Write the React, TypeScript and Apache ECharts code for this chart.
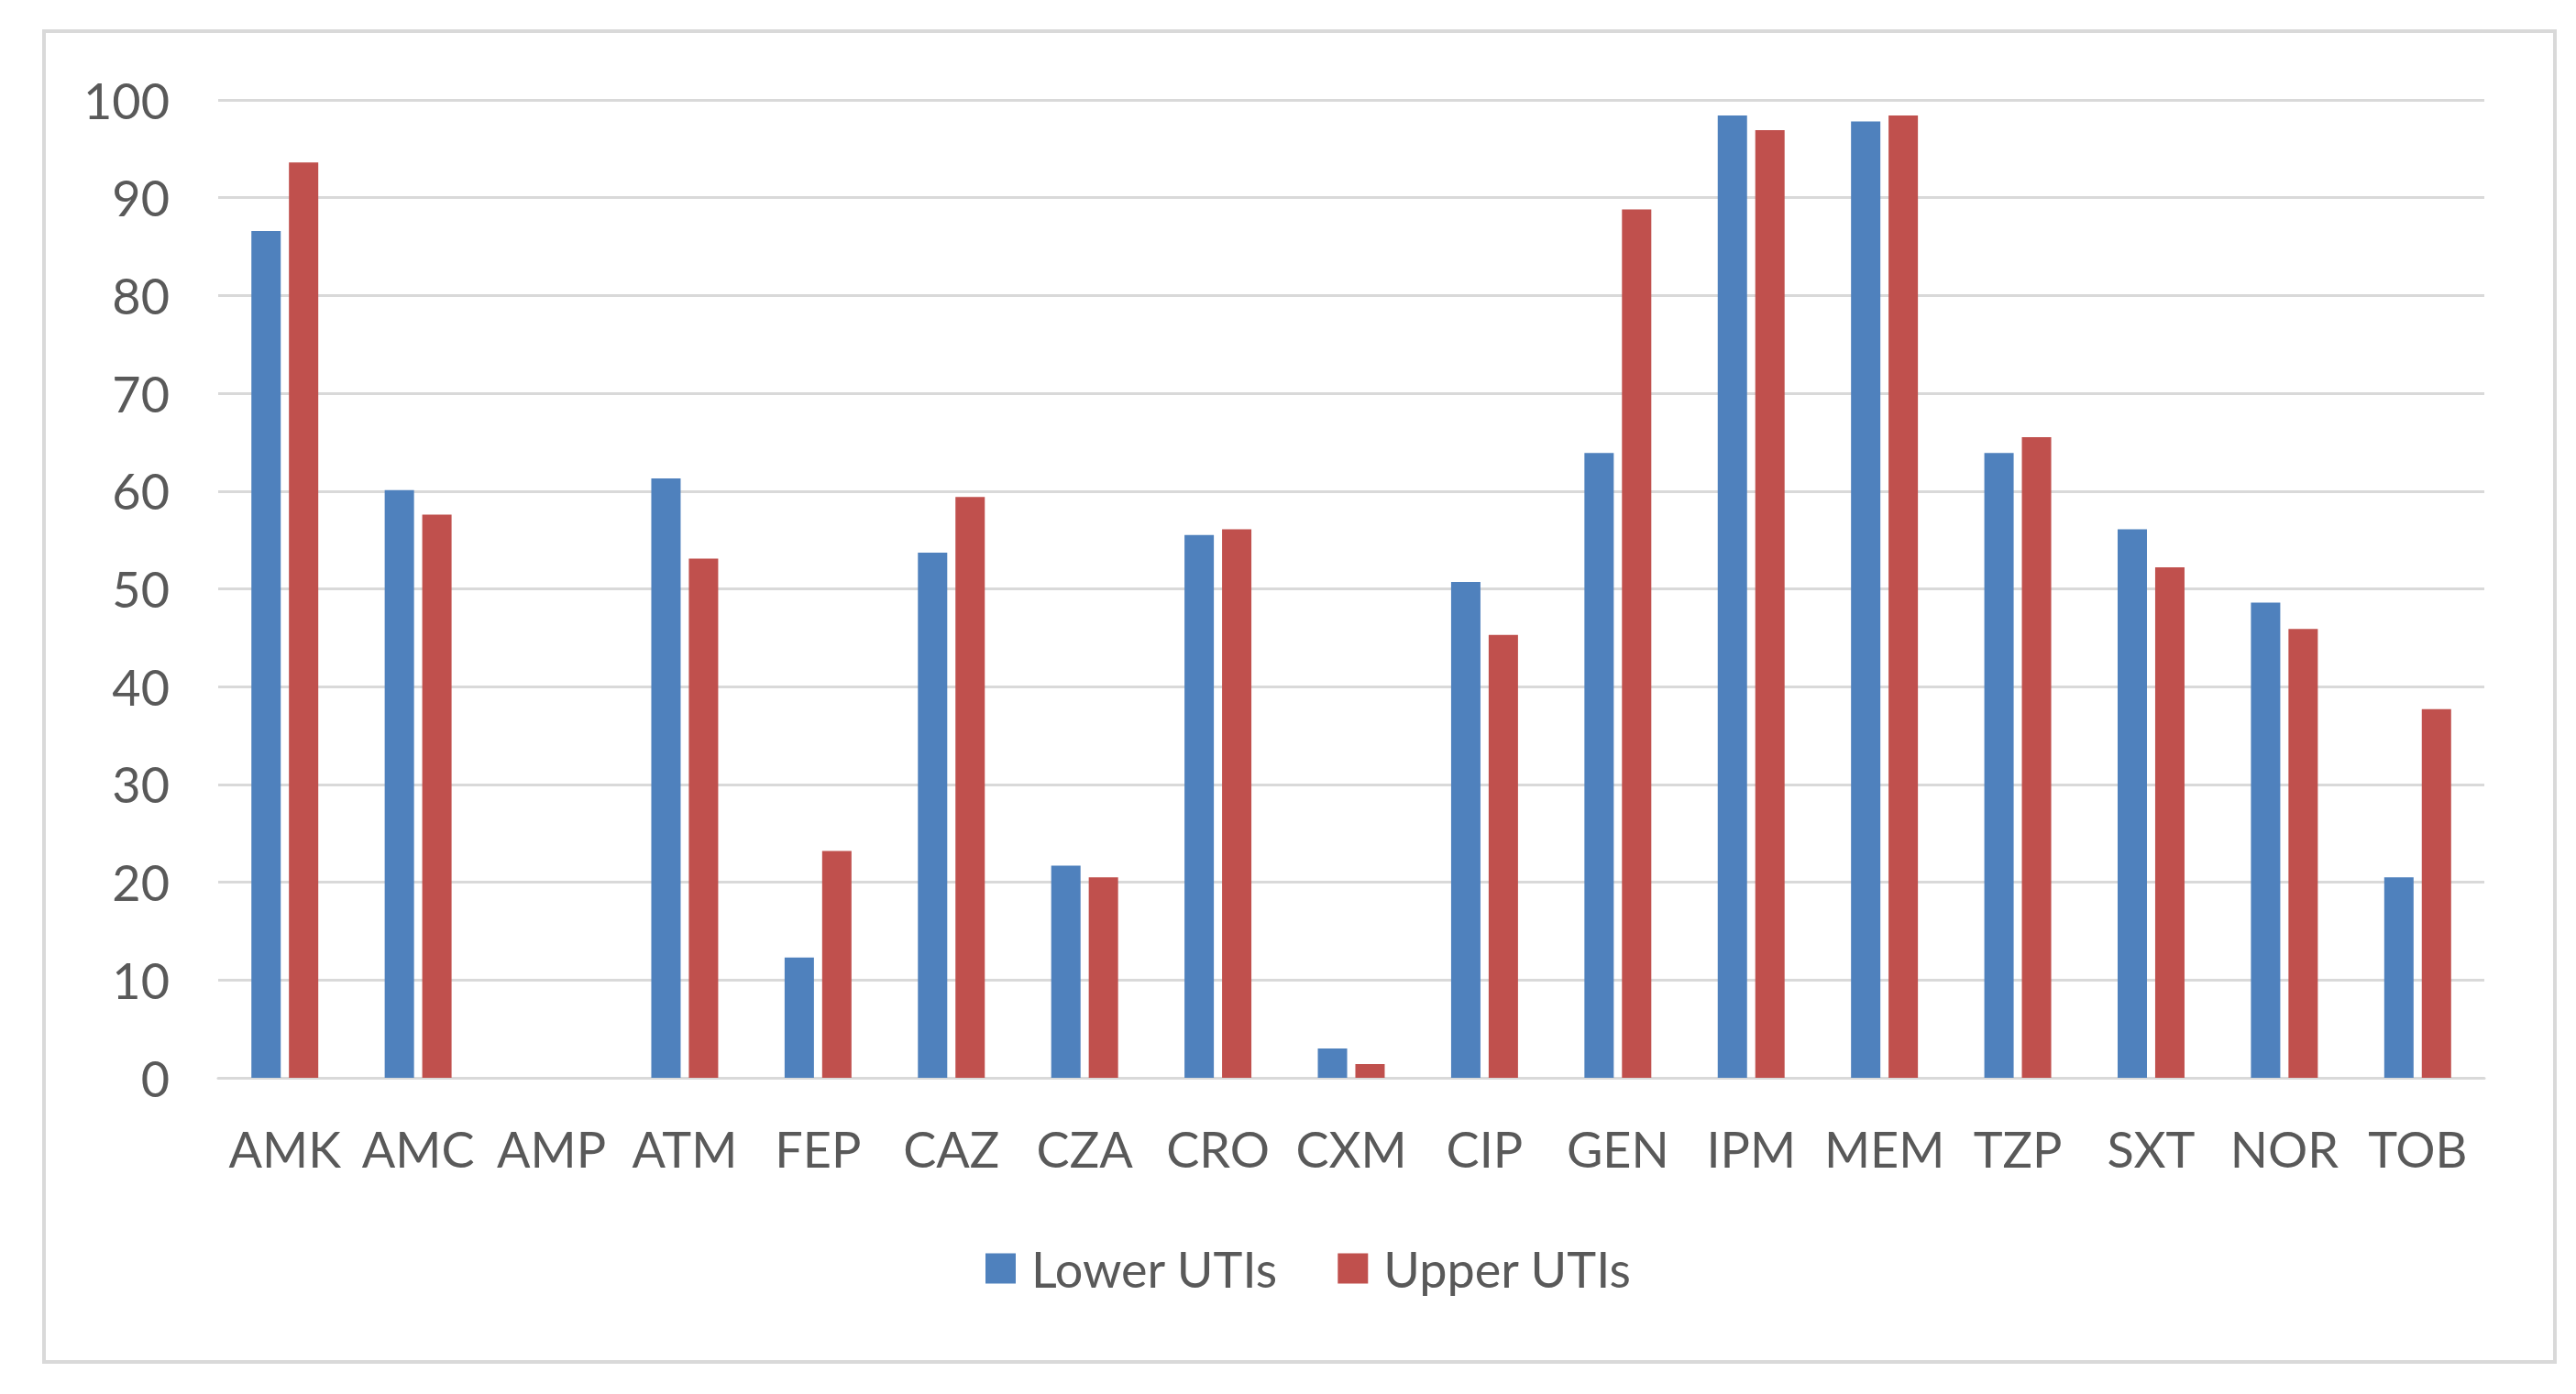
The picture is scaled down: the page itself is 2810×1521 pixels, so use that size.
import React, { useEffect, useRef } from "react";
import * as echarts from "echarts";

const categories = ["AMK", "AMC", "AMP", "ATM", "FEP", "CAZ", "CZA", "CRO", "CXM", "CIP", "GEN", "IPM", "MEM", "TZP", "SXT", "NOR", "TOB"];
const lowerUTIs = [86.6, 60.1, 0, 61.3, 12.3, 53.7, 21.7, 55.5, 3.0, 50.7, 63.9, 98.4, 97.8, 63.9, 56.1, 48.6, 20.5];
const upperUTIs = [93.6, 57.6, 0, 53.1, 23.2, 59.4, 20.5, 56.1, 1.4, 45.3, 88.8, 96.9, 98.4, 65.5, 52.2, 45.9, 37.7];
const seriesNames = ["Lower UTIs", "Upper UTIs"];

const FONT = "Lato, 'Open Sans', sans-serif";
const TEXT = "#595959";
const GRIDC = "#d9d9d9";

export default function App() {
  const ref = useRef<HTMLDivElement>(null);
  useEffect(() => {
    if (!ref.current) return;
    const chart = echarts.init(ref.current, null, { renderer: "svg" });
    chart.setOption({
      animation: false,
      backgroundColor: "#ffffff",
      graphic: [
        {
          type: "rect",
          shape: { x: 48, y: 34, width: 2739, height: 1452 },
          style: { fill: "none", stroke: GRIDC, lineWidth: 4 },
          silent: true,
          z: -1,
        },
      ],
      grid: { left: 238, right: 100, top: 109, bottom: 345, containLabel: false },
      legend: {
        left: 1070,
        top: 1352,
        itemWidth: 33,
        itemHeight: 33,
        itemGap: 65,
        icon: "rect",
        textStyle: { fontFamily: FONT, fontSize: 54, color: TEXT, padding: [0, 0, 0, 12] },
        data: seriesNames,
      },
      xAxis: {
        type: "category",
        data: categories,
        axisLine: { lineStyle: { color: GRIDC, width: 3 } },
        axisTick: { show: false },
        axisLabel: { fontFamily: FONT, fontSize: 54, color: TEXT, margin: 50, interval: 0 },
      },
      yAxis: {
        type: "value",
        min: 0,
        max: 100,
        interval: 10,
        axisLine: { show: false },
        axisTick: { show: false },
        splitLine: { lineStyle: { color: GRIDC, width: 3 } },
        axisLabel: { fontFamily: FONT, fontSize: 54, color: TEXT, margin: 53 },
      },
      series: [
        {
          name: seriesNames[0],
          type: "bar",
          data: lowerUTIs,
          barWidth: 32,
          barGap: "28%",
          itemStyle: { color: "#4F81BD" },
        },
        {
          name: seriesNames[1],
          type: "bar",
          data: upperUTIs,
          barWidth: 32,
          barGap: "28%",
          itemStyle: { color: "#C0504D" },
        },
      ],
    });
    return () => chart.dispose();
  }, []);
  return (
    <div
      ref={ref}
      style={{ position: "fixed", left: 0, top: 0, width: 2810, height: 1521, background: "#fff" }}
    />
  );
}
